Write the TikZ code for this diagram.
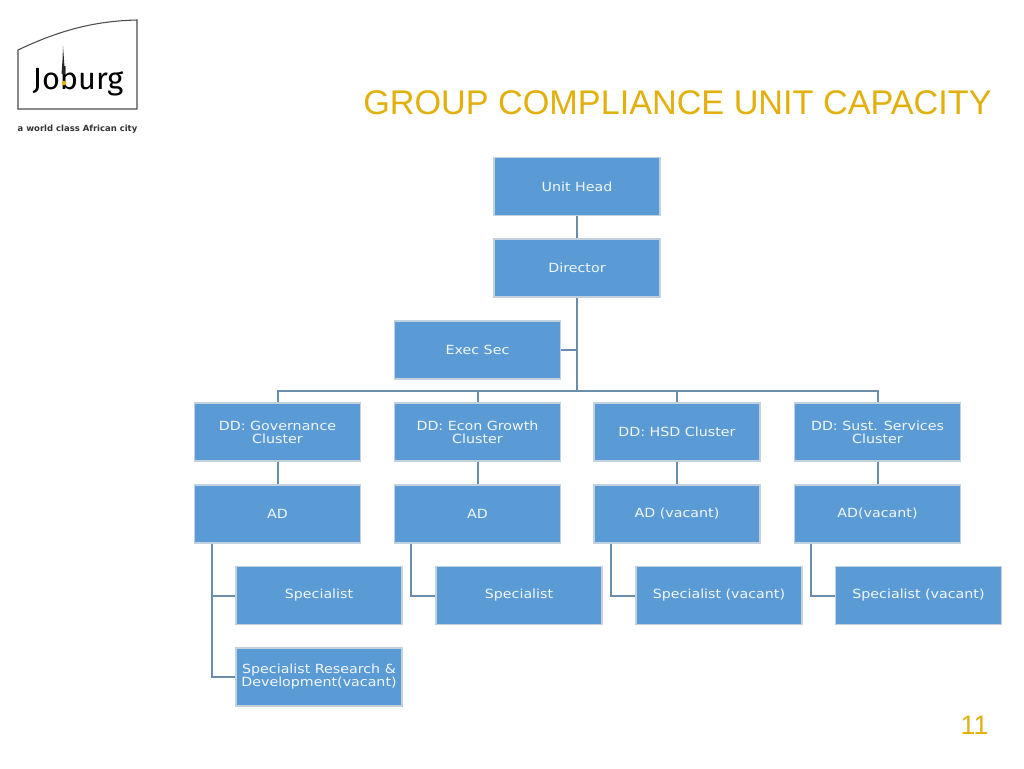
\documentclass[tikz,border=0pt]{standalone}
\usepackage{fontspec}
\setmainfont{DejaVu Sans}
\newfontfamily\titlefont{Liberation Sans}
\newfontfamily\logofont{Fira Sans}
\newfontfamily\boxfont[FakeStretch=1.13]{DejaVu Sans}
\definecolor{boxfill}{HTML}{5B9BD5}
\definecolor{boxedge}{HTML}{C3D0DE}
\definecolor{linkc}{HTML}{6A8DAD}
\definecolor{gold}{HTML}{E3B00B}
\tikzset{
  x=0.75pt,y=-0.75pt,
  orgbox/.style={draw=boxedge,line width=1.1pt,fill=boxfill,text=white!92!boxfill,minimum width=124.5pt,minimum height=43.5pt,inner sep=0pt,align=center,font=\boxfont\fontsize{9.45}{9.75}\selectfont},
  link/.style={draw=linkc,line width=1.5pt},
  trunk/.style={draw=linkc,line width=2.2pt},
  goldtext/.style={text=gold,inner sep=0pt}
}
\begin{document}
\begin{tikzpicture}
\useasboundingbox (0,0) rectangle (1024,768);
\fill[white] (0,0) rectangle (1024,768);
% logo
\draw[black!70,line width=0.8pt] (18,50) .. controls (60,30) and (95,21) .. (137,20) -- (137,109) -- (18,109) -- cycle;
\node[inner sep=0pt,font=\logofont\fontsize{23}{28}\selectfont] (logo) at (78,81) {Joburg};
\fill[black!85] (63,46) -- (64,60) -- (65,74) -- (61.5,74) -- (62.5,60) -- cycle;
\fill[gold] (64,83) circle (2.3);
\node[inner sep=0pt,font=\bfseries\fontsize{6.35}{7}\selectfont,text=black!80] (tag) at (77.5,129.5) {a world class African city};
% title and page
\node[goldtext,font=\titlefont\fontsize{25.65}{30}\selectfont,anchor=base west] (title) at (363,114) {GROUP COMPLIANCE UNIT CAPACITY};
\node[goldtext,font=\titlefont\fontsize{20}{24}\selectfont] (page) at (974.5,725) {11};
% boxes
\node[orgbox] (head) at (577,186.5) {Unit Head};
\node[orgbox] (dir) at (577,268) {Director};
\node[orgbox] (sec) at (477.5,350) {Exec Sec};
\node[orgbox] (dda) at (277.5,432) {DD: Governance\\Cluster};
\node[orgbox] (ddb) at (477.5,432) {DD: Econ Growth\\Cluster};
\node[orgbox] (ddc) at (677,432) {DD: HSD Cluster};
\node[orgbox] (ddd) at (877.5,432) {DD: Sust. Services\\Cluster};
\node[orgbox] (ada) at (277.5,514) {AD};
\node[orgbox] (adb) at (477.5,514) {AD};
\node[orgbox] (adc) at (677,514) {AD (vacant)};
\node[orgbox] (add) at (877.5,514) {AD(vacant)};
\node[orgbox] (spa) at (319,595.5) {Specialist};
\node[orgbox] (spb) at (519,595.5) {Specialist};
\node[orgbox] (spc) at (719,595.5) {Specialist (vacant)};
\node[orgbox] (spd) at (918.5,595.5) {Specialist (vacant)};
\node[orgbox] (spr) at (319,677) {Specialist Research \&\\Development(vacant)};
% connectors
\coordinate (bus) at (577,391);
\draw[link] (head) -- (dir);
\draw[trunk] (dir) -- (bus);
\draw[link] (sec.east) -- (sec.east -| bus);
\foreach \n in {dda,ddb,ddc,ddd} \draw[link] (bus) -| (\n.north);
\draw[link] (dda) -- (ada);
\draw[link] (ddb) -- (adb);
\draw[link] (ddc) -- (adc);
\draw[link] (ddd) -- (add);
\draw[link] ([xshift=13.3pt]ada.south west) |- (spa.west);
\draw[link] ([xshift=13.3pt]ada.south west) |- (spr.west);
\draw[link] ([xshift=13pt]adb.south west) |- (spb.west);
\draw[link] ([xshift=13pt]adc.south west) |- (spc.west);
\draw[link] ([xshift=13pt]add.south west) |- (spd.west);
\end{tikzpicture}
\end{document}
